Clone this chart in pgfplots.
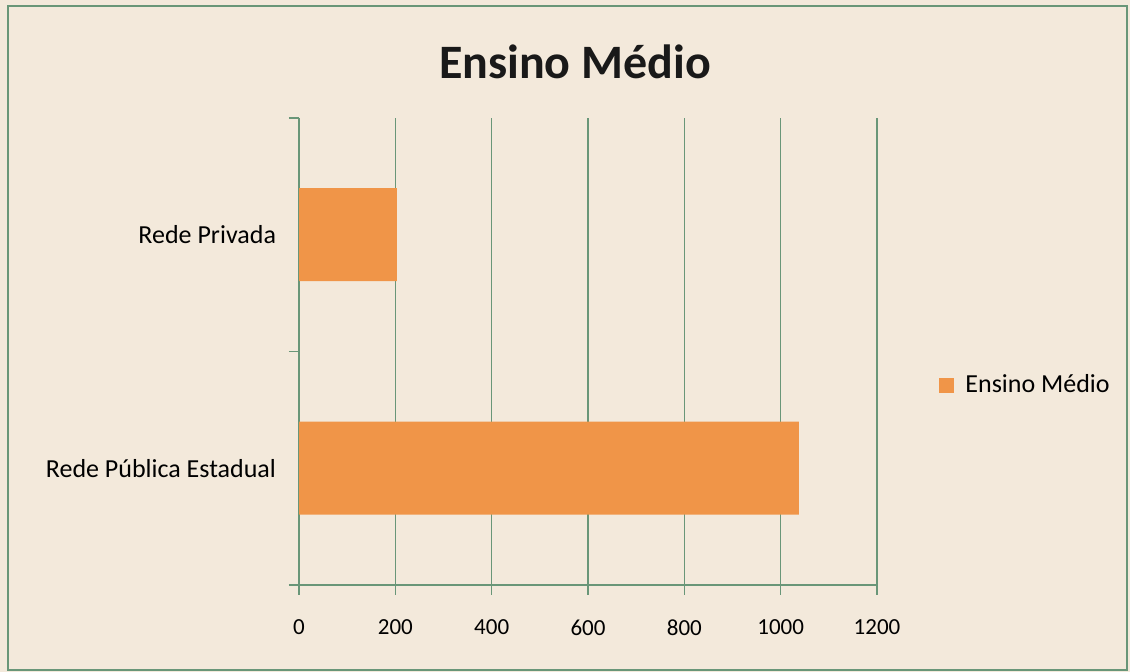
\documentclass[border=0pt]{standalone}
\usepackage{fontspec}
\setmainfont{Carlito}
\usepackage{pgfplots}
\pgfplotsset{compat=1.18}
\definecolor{paper}{RGB}{243,233,219}
\definecolor{gridgreen}{RGB}{105,150,120}
\definecolor{barorange}{RGB}{240,149,72}
\begin{document}
\begin{tikzpicture}
\fill[paper] (0pt,0pt) rectangle (565pt,336pt);
\draw[gridgreen, line width=0.9pt] (4pt,1pt) rectangle (563.5pt,333pt);
\node[font=\fontsize{24}{28}\selectfont\bfseries, text=black!90] at (287.5pt,305pt) {Ensino Médio};
\begin{axis}[
    at={(149.5pt,43.5pt)}, anchor=south west,
    scale only axis, width=289pt, height=233.5pt,
    xbar, bar width=46.5pt,
    xmin=0, xmax=1200, ymin=-0.5, ymax=1.5,
    enlarge y limits=false,
    axis x line*=bottom, axis y line*=left,
    axis line style={gridgreen, line width=0.9pt},
    xtick={0,200,...,1200},
    xmajorgrids, grid style={gridgreen, line width=0.8pt},
    tick align=outside, major tick length=5pt,
    tick style={gridgreen, line width=0.8pt},
    ytick={-0.5,0.5,1.5},
    yticklabels={},
    extra y ticks={0,1},
    extra y tick labels={Rede Pública Estadual, Rede Privada},
    extra y tick style={major tick length=0pt,
        yticklabel style={font=\fontsize{13}{15}\selectfont, text=black, xshift=-8pt}},
    /pgf/number format/assume math mode=true,
    /pgf/number format/1000 sep={},
    xticklabel style={font=\fontsize{11.5}{13}\selectfont, text=black, yshift=-9pt},
    legend style={at={(1.097,0.428)}, anchor=west, draw=none, fill=none,
        font=\fontsize{13}{15}\selectfont, text=black},
    legend image code/.code={\fill[barorange] (0pt,-3.75pt) rectangle (7.5pt,3.75pt);
        \path (11pt,0pt);},
]
\addplot[draw=none, fill=barorange] coordinates {(1038,0) (203,1)};
\legend{Ensino Médio}
\end{axis}
\end{tikzpicture}
\end{document}
